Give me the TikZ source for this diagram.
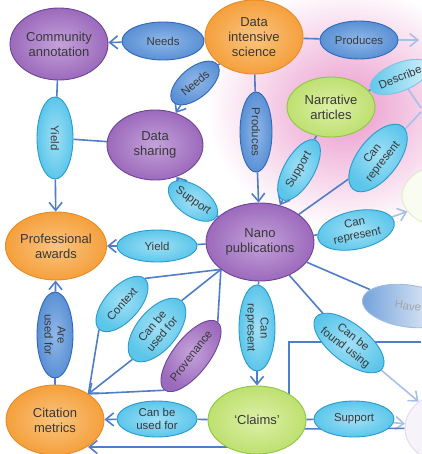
\documentclass[tikz,border=0pt]{standalone}
\usepackage{fontspec}
\setmainfont{Liberation Sans}
\usetikzlibrary{shapes.geometric,arrows.meta,backgrounds}
\definecolor{purF}{HTML}{9C6ABC}
\definecolor{purL}{HTML}{C4A2DA}
\definecolor{purD}{HTML}{6C4498}
\definecolor{orgF}{HTML}{F5A03C}
\definecolor{orgL}{HTML}{FAC480}
\definecolor{orgD}{HTML}{E88A28}
\definecolor{grnF}{HTML}{BEE070}
\definecolor{grnL}{HTML}{DDF0A8}
\definecolor{grnD}{HTML}{8CC840}
\definecolor{bluF}{HTML}{5A90D4}
\definecolor{bluL}{HTML}{90B8EA}
\definecolor{bluD}{HTML}{3068B8}
\definecolor{cyaF}{HTML}{5CC6EA}
\definecolor{cyaL}{HTML}{A0E0F6}
\definecolor{cyaD}{HTML}{2A9ACC}
\definecolor{lin}{HTML}{507DC8}
\definecolor{linF}{HTML}{A8C0E8}
\definecolor{txt}{HTML}{383838}
\definecolor{glow}{HTML}{EA98CC}
\tikzset{
  base/.style={ellipse, inner sep=0pt, align=center, text=txt, line width=0.9pt},
  big/.style={base, font=\fontsize{13}{15}\selectfont},
  lab/.style={base, font=\fontsize{11.4}{13}\selectfont},
  purp/.style={draw=purD, inner color=purL, outer color=purF},
  orng/.style={draw=orgD, inner color=orgL, outer color=orgF},
  grn/.style={draw=grnD, inner color=grnL, outer color=grnF},
  blu/.style={draw=bluD, inner color=bluL, outer color=bluF},
  cya/.style={draw=cyaD, inner color=cyaL, outer color=cyaF},
  conn/.style={draw=lin, line width=1.6pt},
  connF/.style={draw=linF, line width=1.6pt},
  arr/.style={conn, -{Straight Barb[length=8pt,width=13pt]}},
  arrF/.style={connF, -{Straight Barb[length=8pt,width=13pt]}},
}
\begin{document}
\begin{tikzpicture}[x=1pt,y=-1pt]
\useasboundingbox (0,0) rectangle (421,454);
% faded nodes at the right edge
\node[base, draw=grnD!30, fill=grnF!10, minimum width=96pt, minimum height=64pt] (fg) at (450,196) {};
\node[base, draw=purD!20, fill=purF!8, minimum width=90pt, minimum height=72pt] (fp) at (450,428) {};
% main nodes
\node[big,orng,minimum width=98pt,minimum height=74pt] (dis) at (254,37) {Data\\intensive\\science};
\node[big,purp,minimum width=98pt,minimum height=72pt] (ca) at (59,44) {Community\\annotation};
\node[big,purp,minimum width=96pt,minimum height=70pt] (ds) at (155,145) {Data\\sharing};
\node[big,grn,minimum width=88pt,minimum height=60pt] (na) at (331,107) {Narrative\\articles};
\node[big,purp,minimum width=108pt,minimum height=78pt] (nano) at (260,242) {Nano\\publications};
\node[big,orng,minimum width=98pt,minimum height=68pt] (pa) at (56,246) {Professional\\awards};
\node[big,orng,minimum width=98pt,minimum height=70pt] (cm) at (55,420) {Citation\\metrics};
\node[big,grn,minimum width=98pt,minimum height=68pt] (claims) at (257,420) {‘Claims’};
% label nodes
\node[lab,blu,minimum width=82pt,minimum height=38pt] (needsT) at (163,41) {Needs};
\node[lab,blu,minimum width=78pt,minimum height=38pt] (prodT) at (359,40) {Produces};
\node[lab,blu,minimum width=58pt,minimum height=30pt,rotate=40] (needsD) at (195,83) {Needs};
\node[lab,cya,minimum width=82pt,minimum height=36pt,rotate=-90] (yieldV) at (55,138) {Yield};
\node[lab,blu,minimum width=80pt,minimum height=32pt,rotate=-90] (prodV) at (256,132) {Produces};
\node[lab,cya,minimum width=68pt,minimum height=30pt,rotate=60] (suppD) at (299,170) {Support};
\node[lab,draw=cyaD!60,left color=cyaF,right color=cyaL!40,minimum width=60pt,minimum height=28pt,rotate=22] (desc) at (400,77) {Describe};
\node[lab,cya,minimum width=80pt,minimum height=40pt,rotate=52] (crU) at (378,158) {Can\\represent};
\node[lab,cya,minimum width=56pt,minimum height=30pt,rotate=-35] (suppS) at (193,201) {Support};
\node[lab,cya,minimum width=78pt,minimum height=38pt,rotate=12] (crR) at (356,230) {Can\\represent};
\node[lab,cya,minimum width=80pt,minimum height=32pt] (yieldH) at (157,246) {Yield};
\node[lab,draw=bluD!45,left color=bluF!85,right color=white,text=txt!45,minimum width=92pt,minimum height=42pt,rotate=-8] (have) at (408,306) {Have};
\node[lab,cya,minimum width=68pt,minimum height=34pt,rotate=48] (ctx) at (122,304) {Context};
\node[lab,cya,minimum width=76pt,minimum height=40pt,rotate=50] (cbuM) at (157,330) {Can be\\used for};
\node[lab,purp,minimum width=78pt,minimum height=36pt,rotate=52] (prov) at (191,356) {Provenance};
\node[lab,cya,minimum width=86pt,minimum height=36pt,rotate=-90] (crV) at (257,328) {Can\\represent};
\node[lab,blu,minimum width=86pt,minimum height=36pt,rotate=-90] (areU) at (55,335) {Are\\used for};
\node[lab,cya,minimum width=84pt,minimum height=38pt,rotate=-38] (cbf) at (349,343) {Can be\\found using};
\node[lab,cya,minimum width=80pt,minimum height=36pt] (cbuH) at (157,419) {Can be\\used for};
\node[lab,cya,minimum width=80pt,minimum height=36pt] (suppB) at (354,419) {Support};
% free ends
\coordinate (prodEnd) at (419,40);
\coordinate (descEnd) at (421,108);
\coordinate (crUEnd) at (421,112);
\coordinate (rightTop) at (421,342);
\coordinate (cmBot) at (88,447);
\begin{scope}[on background layer]
\shade[inner color=glow, outer color=white] (346,108) ellipse [x radius=140pt, y radius=122pt];
\draw[conn] (dis) -- (needsT); \draw[arr] (needsT) -- (ca);
\draw[conn] (dis) -- (prodT); \draw[arrF] (prodT) -- (prodEnd);
\draw[conn] (dis) -- (needsD); \draw[arr] (needsD) -- (ds);
\draw[conn] (dis) -- (prodV); \draw[arr] (prodV) -- (nano);
\draw[conn] (ca) -- (yieldV); \draw[arr] (yieldV) -- (pa);
\draw[conn] (ds) -- (yieldV);
\draw[conn] (nano) -- (suppS); \draw[arr] (suppS) -- (ds);
\draw[conn] (na) -- (suppD); \draw[arr] (suppD) -- (nano);
\draw[conn] (na) -- (desc); \draw[connF] (desc) -- (descEnd);
\draw[conn] (nano) -- (crU); \draw[connF] (crU) -- (crUEnd);
\draw[conn] (nano) -- (crR); \draw[arrF] (crR) -- (fg);
\draw[conn] (nano) -- (yieldH); \draw[arr] (yieldH) -- (pa);
\draw[conn] (nano) -- (have);
\draw[conn] (nano) -- (cbf); \draw[arrF] (cbf) -- (fp);
\draw[conn] (nano) -- (crV); \draw[arr] (crV) -- (claims);
\draw[conn] (nano.215) -- (ctx.east); \draw[conn] (ctx.west) -- (cm.38);
\draw[conn] (nano.215) -- (cbuM.east); \draw[arr] (cbuM.west) -- (cm.38);
\draw[conn] (nano.215) -- (prov.east); \draw[conn] (prov.west) -- (cm.38);
\draw[conn] (cm) -- (areU); \draw[arr] (areU) -- (pa);
\draw[conn] (claims) -- (cbuH); \draw[arr] (cbuH) -- (cm);
\draw[conn] (claims) -- (suppB); \draw[arrF] (suppB) -- (fp);
\draw[conn] ([xshift=-3pt]claims.north east) |- (rightTop);
\draw[arr] (fp) -- (295,429) -- (240,447) -- (cmBot);
\end{scope}
\end{tikzpicture}
\end{document}
